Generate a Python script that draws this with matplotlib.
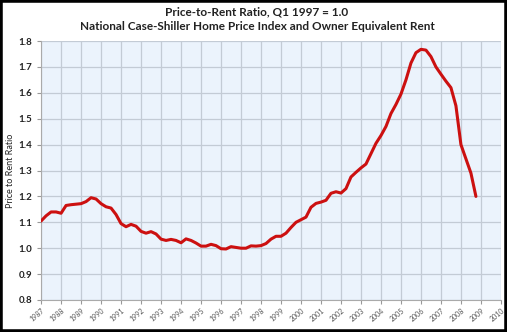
import numpy as np
import matplotlib
matplotlib.use("Agg")
import matplotlib.pyplot as plt
from matplotlib.patches import Rectangle

# quarterly, 1987 Q1 .. 2008 Q4
start_year = 1987
ratio = [1.105, 1.125, 1.140, 1.140,
         1.135, 1.165, 1.168, 1.170,
         1.172, 1.180, 1.195, 1.190,
         1.172, 1.160, 1.155, 1.130,
         1.095, 1.083, 1.092, 1.085,
         1.065, 1.058, 1.064, 1.055,
         1.035, 1.030, 1.034, 1.030,
         1.021, 1.036, 1.030, 1.020,
         1.008, 1.008, 1.015, 1.010,
         0.998, 0.997, 1.006, 1.003,
         1.000, 1.000, 1.009, 1.008,
         1.010, 1.018, 1.035, 1.046,
         1.046, 1.058, 1.080, 1.100,
         1.110, 1.120, 1.158, 1.173,
         1.178, 1.185, 1.212, 1.218,
         1.213, 1.230, 1.275, 1.293,
         1.310, 1.325, 1.365, 1.405,
         1.435, 1.470, 1.520, 1.555,
         1.595, 1.650, 1.715, 1.755,
         1.768, 1.765, 1.740, 1.700,
         1.672, 1.645, 1.620, 1.550,
         1.400, 1.345, 1.290, 1.200]
years = list(range(1987, 2011))
yticks = [0.8, 0.9, 1.0, 1.1, 1.2, 1.3, 1.4, 1.5, 1.6, 1.7, 1.8]

x = start_year + np.arange(len(ratio)) / 4.0

plt.rcParams['font.family'] = ['Lato', 'DejaVu Sans']

fig = plt.figure(figsize=(5.07, 3.32), dpi=100)
ax = fig.add_axes([0.081, 0.0964, 0.907, 0.78])
ax.set_facecolor('#ebf3fc')

ax.plot(x, ratio, color='#cc1010', lw=2.2, solid_capstyle='round', zorder=3)

ax.set_xlim(1987, 2010)
ax.set_ylim(0.8, 1.8)
ax.set_xticks(years)
ax.set_xticklabels([str(y) for y in years], rotation=40, ha='right',
                   fontsize=5, color='#555555', rotation_mode='anchor')
ax.set_yticks(yticks)
ax.set_yticklabels(['%.1f' % v for v in yticks], fontsize=7, fontweight='bold', color='#222222')
ax.tick_params(axis='both', length=3, color='#999999', width=0.8)
ax.tick_params(axis='x', pad=2)
ax.grid(True, color='#c3cbd5', lw=0.9)
ax.set_axisbelow(True)
for s in ['top', 'right']:
    ax.spines[s].set_visible(False)
for s in ['left', 'bottom']:
    ax.spines[s].set_color('#aaaaaa')

ax.set_ylabel('Price to Rent Ratio', fontsize=6.5, color='#222222')
ax.yaxis.set_label_coords(-0.057, 0.5)

fig.text(0.507, 0.965, 'Price-to-Rent Ratio, Q1 1997 = 1.0', ha='center', va='center',
         fontsize=8.5, fontweight='bold', color='#222222')
fig.text(0.507, 0.92, 'National Case-Shiller Home Price Index and Owner Equivalent Rent',
         ha='center', va='center', fontsize=8.5, fontweight='bold', color='#222222')

# black frame round the whole picture
fig.patches.append(Rectangle((0, 0), 1, 1, transform=fig.transFigure, fill=False,
                             edgecolor='black', lw=4))

fig.savefig('out.png', dpi=100)
